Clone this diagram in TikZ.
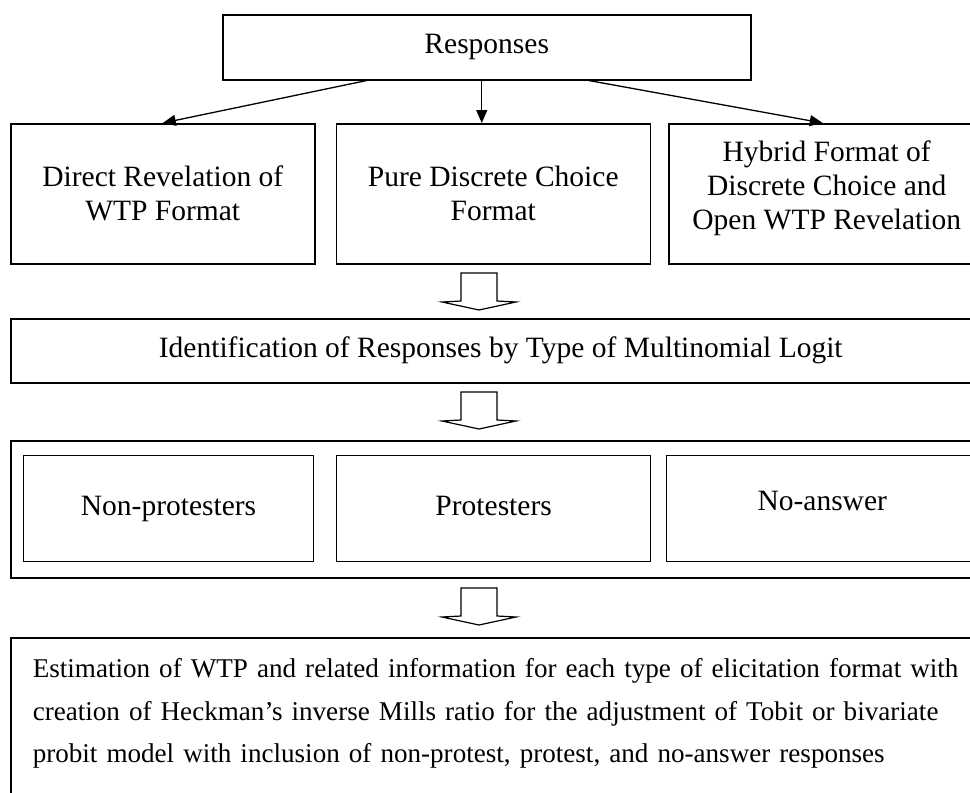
\documentclass[tikz,border=0pt]{standalone}
\usepackage{fontspec}
\setmainfont{Liberation Serif}
\usetikzlibrary{arrows.meta,positioning}

\tikzset{
  box/.style={draw, line width=1.5pt, align=center, inner sep=0pt,
    font=\fontsize{29.5}{34}\selectfont},
  subbox/.style={box, line width=1.1pt, text height=20pt, text depth=7pt},
  arr/.style={line width=1.3pt, -{Triangle[length=13pt,width=11pt]}},
  hollowdown/.pic={
    \draw[line width=1.2pt, line join=miter]
      (-18,0) -- (-18,-28) -- (-37,-29) -- (0,-37)
      -- (37,-29) -- (18,-28) -- (18,0) -- cycle;
  }
}

\begin{document}
\begin{tikzpicture}[x=1pt,y=1pt]
  \useasboundingbox (0,0) rectangle (970,-793);
  \clip (0,0) rectangle (970,-793);

  % top of the chart
  \node[box, anchor=north west, minimum width=528, minimum height=65]
    (resp) at (222,-14) {Responses};

  % the three formats
  \node[box, anchor=north west, minimum width=304, minimum height=140]
    (direct) at (10,-123) {Direct Revelation of\\WTP Format};
  \node[box, minimum width=314, minimum height=140,
    right=20pt of direct] (pure) {Pure Discrete Choice\\Format};
  \node[box, minimum width=316, minimum height=140,
    right=17pt of pure] (hybrid)
    {Hybrid Format of\\Discrete Choice and\\Open WTP Revelation\\[-17pt]};

  \draw[arr] ([xshift=-120pt]resp.south) -- (direct.north);
  \draw[arr] ([xshift=-5pt]resp.south) -- ([xshift=-5pt]resp.south |- pure.north);
  \draw[arr] ([xshift=102pt]resp.south) -- ([xshift=-4pt]hybrid.north);

  \pic at (479,-273) {hollowdown};

  % logit step
  \node[box, anchor=north west, minimum width=980, minimum height=64]
    (ident) at (10,-318)
    {Identification of Responses by Type of Multinomial Logit};

  \pic at (479,-392) {hollowdown};

  % the three groups
  \node[box, anchor=north west, minimum width=980, minimum height=137]
    (group) at (10,-440) {};
  \node[subbox, anchor=north west, minimum width=290, minimum height=106]
    (nonprot) at (23,-455) {Non-protesters};
  \node[subbox, minimum width=314, minimum height=106,
    right=22pt of nonprot] (prot) {Protesters};
  \node[subbox, minimum width=311, minimum height=106, text depth=17pt,
    right=15pt of prot] (noans) {No-answer};

  \pic at (479,-588) {hollowdown};

  % estimation
  \node[box, anchor=north west, align=left, text width=1040pt,
    inner xsep=22pt, inner ysep=21pt, text depth=130pt,
    font=\fontsize{27.1}{42.5}\selectfont] (estim) at (10,-637)
    {Estimation of WTP and related information for each type of elicitation format with\\
     creation of Heckman’s inverse Mills ratio for the adjustment of Tobit or bivariate\\
     probit model with inclusion of non-protest, protest, and no-answer responses};
\end{tikzpicture}
\end{document}
